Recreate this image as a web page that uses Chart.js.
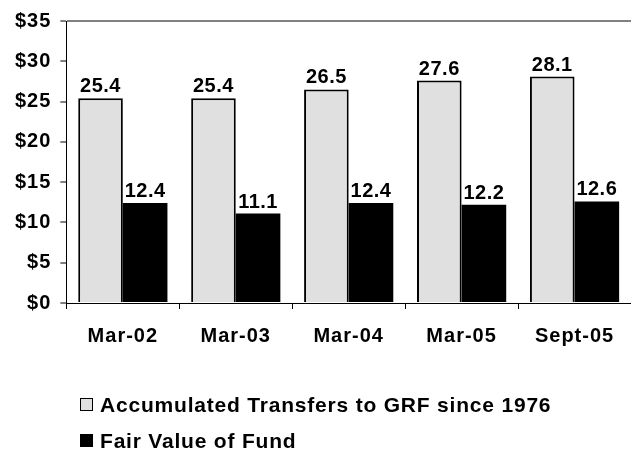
<!DOCTYPE html>
<html>
<head>
<meta charset="utf-8">
<script src="https://cdn.jsdelivr.net/npm/chart.js@4"></script>
<style>
  body { margin: 0; background: #fff; }
  #wrap { width: 631px; height: 451px; }
</style>
</head>
<body>
<div id="wrap"><canvas id="chart" width="631" height="451"></canvas></div>
<script>
//-------------------- SETUP BLOCK-------------------
const categories = ['Mar-02', 'Mar-03', 'Mar-04', 'Mar-05', 'Sept-05'];
const transfers = [25.4, 25.4, 26.5, 27.6, 28.1];
const fairValue = [12.4, 11.1, 12.4, 12.2, 12.6];
const seriesNames = ['Accumulated Transfers to GRF since 1976', 'Fair Value of Fund'];
const yTicks = [0, 5, 10, 15, 20, 25, 30, 35];

const FONT = 'Arial, "Liberation Sans", sans-serif';
const LIGHT = '#e0e0e0';

const data = {
    labels: categories,
    datasets: [{
        label: seriesNames[0],
        data: transfers,
        backgroundColor: LIGHT,
        borderColor: '#000',
        borderWidth: 2
    }, {
        label: seriesNames[1],
        data: fairValue,
        backgroundColor: '#000',
        borderColor: '#000',
        borderWidth: 0
    }]
};

// the original text is a bit spaced out, so widen the axis text a little
const spacing = {
    id: 'spacing',
    beforeUpdate(chart) { chart.ctx.letterSpacing = '1px'; },
    beforeDraw(chart) { chart.ctx.letterSpacing = '1px'; }
};

// value labels above every bar
const barLabels = {
    id: 'barLabels',
    afterDatasetsDraw(chart) {
        const ctx = chart.ctx;
        ctx.save();
        ctx.letterSpacing = '0.5px';
        ctx.font = 'bold 20px ' + FONT;
        ctx.fillStyle = '#000';
        ctx.textAlign = 'center';
        ctx.textBaseline = 'alphabetic';
        chart.data.datasets.forEach((ds, i) => {
            chart.getDatasetMeta(i).data.forEach((bar, j) => {
                ctx.fillText(ds.data[j].toFixed(1), bar.x, bar.y - 6);
            });
        });
        ctx.restore();
    }
};

// stacked legend under the axis, left aligned like the original
const stackLegend = {
    id: 'stackLegend',
    afterDraw(chart) {
        const ctx = chart.ctx;
        ctx.save();
        ctx.letterSpacing = '0.8px';
        ctx.font = 'bold 21px ' + FONT;
        ctx.textBaseline = 'middle';
        ctx.textAlign = 'left';
        const rows = [405, 441];
        chart.data.datasets.forEach((ds, i) => {
            const y = rows[i];
            ctx.fillStyle = ds.backgroundColor;
            ctx.fillRect(80, y - 7, 13, 13);
            ctx.strokeStyle = '#000';
            ctx.lineWidth = 1;
            ctx.strokeRect(80.5, y - 6.5, 12, 12);
            ctx.fillStyle = '#000';
            ctx.fillText(ds.label, 100, y + 1);
        });
        ctx.restore();
    }
};

//------------------- CONFIG BLOCK----------------------
const config = {
    type: 'bar',
    data,
    options: {
        responsive: false,
        animation: false,
        layout: { padding: { left: 6, top: 5, right: -5, bottom: 88 } },
        datasets: { bar: { categoryPercentage: 0.79, barPercentage: 1 } },
        plugins: {
            legend: { display: false },
            tooltip: { enabled: false }
        },
        scales: {
            x: {
                grid: {
                    offset: true,
                    drawOnChartArea: false,
                    tickLength: 6,
                    tickColor: '#000'
                },
                border: { color: '#000', width: 1 },
                ticks: {
                    color: '#000',
                    padding: 15,
                    font: { family: FONT, size: 20, weight: 'bold' }
                }
            },
            y: {
                min: 0,
                max: 35,
                afterBuildTicks(scale) {
                    scale.ticks = yTicks.map(v => ({ value: v }));
                },
                grid: {
                    color: c => (c.tick && c.tick.value === 35 ? '#808080' : 'rgba(0,0,0,0)'),
                    lineWidth: 2,
                    tickLength: 6,
                    tickColor: '#000',
                    tickWidth: 1
                },
                border: { color: '#000', width: 1 },
                ticks: {
                    color: '#000',
                    padding: 9,
                    font: { family: FONT, size: 20, weight: 'bold' },
                    callback: v => '$' + v
                }
            }
        }
    },
    plugins: [spacing, barLabels, stackLegend]
};

//-------------------RENDER BLOCK----------------------
const myChart = new Chart(document.getElementById('chart'), config);
</script>
</body>
</html>
